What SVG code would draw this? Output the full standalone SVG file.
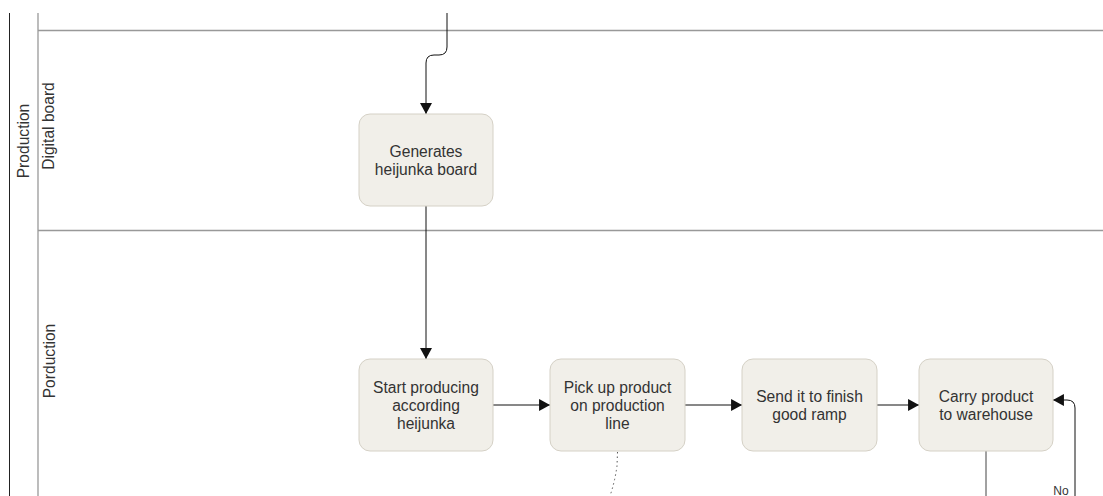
<svg xmlns="http://www.w3.org/2000/svg" width="1103" height="496" viewBox="0 0 1103 496">
  <style>
    .lane { stroke: #999999; stroke-width: 1.3; fill: none; }
    .pool { stroke: #222222; stroke-width: 1; fill: none; }
    .lbl { font-family: "Liberation Sans", Arial, sans-serif; font-size: 15.6px; fill: #333333; text-anchor: middle; }
    .node rect { fill: #f1efe9; stroke: #d5d1c6; stroke-width: 1; }
    .node text { font-family: "Liberation Sans", Arial, sans-serif; font-size: 15.6px; fill: #333333; text-anchor: middle; }
    .edge { stroke: #111111; stroke-width: 1; fill: none; }
    .dotted { stroke: #555555; stroke-width: 1; fill: none; stroke-dasharray: 1.5 3; }
  </style>
  <defs>
    <marker id="arrow" viewBox="0 0 10 11" refX="10" refY="5.5" markerWidth="11" markerHeight="12" markerUnits="userSpaceOnUse" orient="auto">
      <path d="M0,0 L10,5.5 L0,11 Z" fill="#111111"/>
    </marker>
  </defs>

  <rect width="1103" height="496" fill="#ffffff"/>

  <!-- pool and lanes -->
  <g id="pool-production">
    <line class="pool" x1="9.5" y1="13" x2="9.5" y2="496"/>
    <line class="lane" x1="38" y1="13" x2="38" y2="496"/>
    <text class="lbl" transform="translate(28.5,141) rotate(-90)">Production</text>
  </g>
  <g id="lane-digital-board">
    <line class="lane" x1="38" y1="30.5" x2="1103" y2="30.5"/>
    <text class="lbl" transform="translate(54,126) rotate(-90)">Digital board</text>
  </g>
  <g id="lane-porduction">
    <line class="lane" x1="38" y1="230.5" x2="1103" y2="230.5"/>
    <text class="lbl" transform="translate(55,361) rotate(-90)">Porduction</text>
  </g>

  <!-- connectors -->
  <g id="connectors">
    <path class="edge" d="M447,13 V47 Q447,55 439,55 H434 Q426,55 426,63 V114" marker-end="url(#arrow)"/>
    <path class="edge" d="M426,206 V359" marker-end="url(#arrow)"/>
    <path class="edge" d="M493,405 H550" marker-end="url(#arrow)"/>
    <path class="edge" d="M685,405 H742" marker-end="url(#arrow)"/>
    <path class="edge" d="M877,405 H919" marker-end="url(#arrow)"/>
    <path class="edge" d="M986,451 V496" style="stroke:#444444"/>
    <path class="edge" d="M1075,496 V408 Q1075,400 1067,400 H1053" marker-end="url(#arrow)"/>
    <path class="dotted" d="M617.5,452 L617,466 Q615,481 610,496"/>
    <text class="lbl" x="1061" y="495" style="font-size:12px">No</text>
  </g>

  <!-- nodes -->
  <g id="generates-heijunka-board" class="node">
    <rect x="359" y="114" width="134" height="92" rx="11"/>
    <text x="426" y="156.5">Generates</text>
    <text x="426" y="174.5">heijunka board</text>
  </g>
  <g id="start-producing" class="node">
    <rect x="359" y="359" width="134" height="92" rx="11"/>
    <text x="426" y="392.5">Start producing</text>
    <text x="426" y="410.5">according</text>
    <text x="426" y="428.5">heijunka</text>
  </g>
  <g id="pick-up-product" class="node">
    <rect x="550" y="359" width="135" height="92" rx="11"/>
    <text x="617.5" y="392.5">Pick up product</text>
    <text x="617.5" y="410.5">on production</text>
    <text x="617.5" y="428.5">line</text>
  </g>
  <g id="send-to-ramp" class="node">
    <rect x="742" y="359" width="135" height="92" rx="11"/>
    <text x="809.5" y="401.5">Send it to finish</text>
    <text x="809.5" y="419.5">good ramp</text>
  </g>
  <g id="carry-to-warehouse" class="node">
    <rect x="919" y="359" width="134" height="92" rx="11"/>
    <text x="986" y="401.5">Carry product</text>
    <text x="986" y="419.5">to warehouse</text>
  </g>
</svg>
